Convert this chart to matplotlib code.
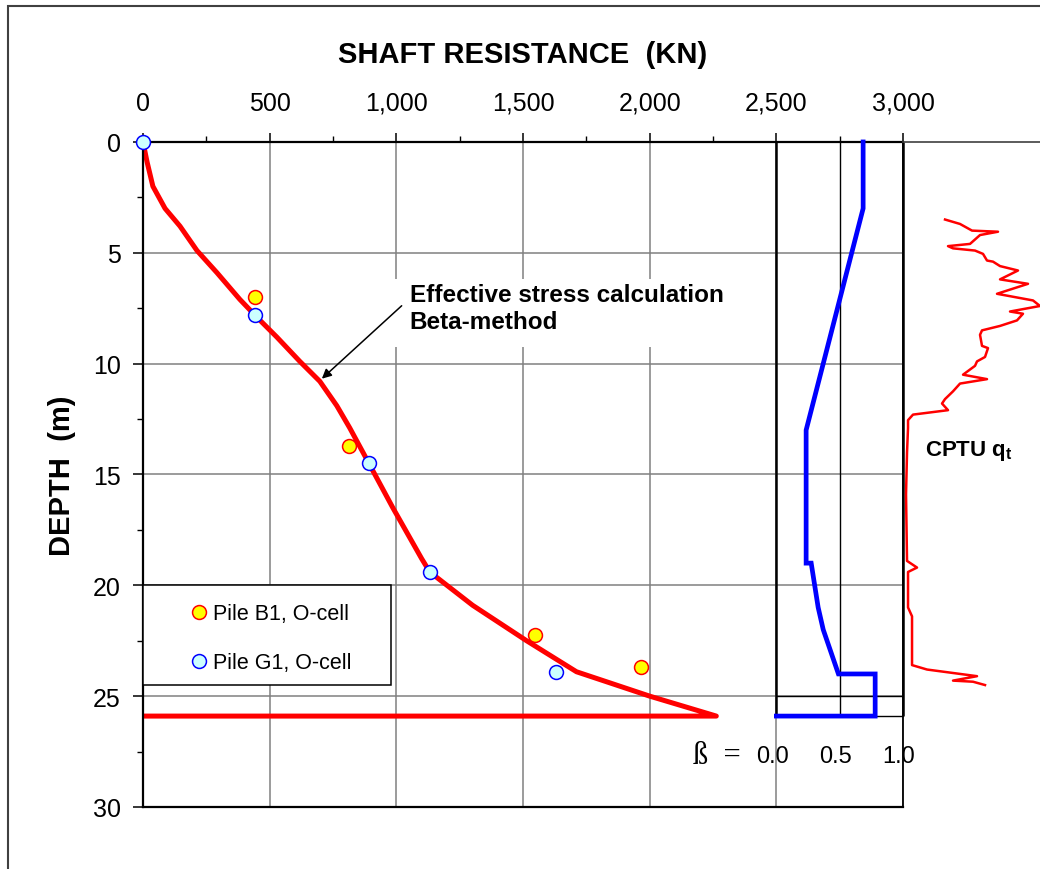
import matplotlib
matplotlib.use("Agg")
import matplotlib.pyplot as plt
from matplotlib.patches import Rectangle
from matplotlib.ticker import MultipleLocator, StrMethodFormatter
from matplotlib import transforms

# effective stress (beta-method) calculation of mobilised shaft resistance
calc_depth = [0, 0.9, 2.0, 3.0, 3.8, 4.9, 5.9, 7.1, 7.9, 8.8, 9.9, 10.8, 11.9,
              12.9, 14.4, 16.5, 18.8, 19.4, 20.9, 22.5, 23.9, 25.0, 25.9, 25.9]
calc_load = [0, 16, 39, 87, 146, 213, 292, 382, 449, 528, 619, 698, 765,
             816, 887, 986, 1100, 1132, 1301, 1514, 1711, 2000, 2263, 0]

# O-cell test results
b1_depth = [7.0, 13.7, 22.25, 23.7]
b1_load = [442, 812, 1546, 1964]
g1_depth = [0, 7.8, 14.5, 19.4, 23.9]
g1_load = [0, 442, 891, 1132, 1629]

# beta coefficient profile
beta_depth = [0, 3, 13, 19, 19, 21, 22, 24, 24, 25.9, 25.9]
beta_value = [0.685, 0.685, 0.235, 0.235, 0.275, 0.33, 0.37, 0.49, 0.78, 0.78, 0.0]

# CPTU cone resistance qt (MPa)
cptu_depth = [3.5, 3.7, 4.0, 4.05, 4.2, 4.6, 4.7, 4.8, 4.9, 5.05, 5.35, 5.4, 5.6,
              5.8, 6.2, 6.4, 6.85, 7.15, 7.4, 7.65, 7.75, 8.05, 8.3, 8.5, 8.7,
              9.2, 9.3, 9.7, 9.9, 10.1, 10.5, 10.7, 10.9, 11.25, 11.6, 11.8,
              12.1, 12.3, 12.55, 12.9, 14.0, 15.9, 18.9, 19.2, 19.4, 21.0, 21.4,
              23.6, 23.8, 24.1, 24.3, 24.35, 24.5]
cptu_qt = [4.2, 5.7, 6.9, 9.5, 7.7, 6.7, 4.5, 5.0, 7.2, 8.0, 8.4, 9.0, 9.7,
           11.5, 9.7, 12.5, 9.4, 13.0, 13.7, 10.7, 12.0, 11.4, 9.7, 7.9, 7.7,
           7.9, 8.5, 8.2, 7.4, 7.2, 6.0, 8.4, 5.7, 5.0, 4.2, 3.9,
           4.5, 1.0, 0.5, 0.5, 0.4, 0.3, 0.4, 1.4, 0.5, 0.5, 0.9,
           0.9, 2.4, 7.4, 5.0, 7.0, 8.2]

beta_ticks = [0.0, 0.5, 1.0]

plt.rcParams["font.family"] = ["Liberation Sans", "DejaVu Sans"]
plt.rcParams["mathtext.fontset"] = "custom"
plt.rcParams["mathtext.rm"] = "Liberation Sans"
plt.rcParams["mathtext.bf"] = "Liberation Sans:bold"

fig = plt.figure(figsize=(10.4, 8.7), dpi=100)
ax = fig.add_axes([0.1375, 0.0713, 0.7308, 0.7644])

ax.set_xlim(0, 3000)
ax.set_ylim(30, 0)
ax.xaxis.tick_top()
ax.xaxis.set_label_position("top")
ax.xaxis.set_major_locator(MultipleLocator(500))
ax.xaxis.set_minor_locator(MultipleLocator(250))
ax.yaxis.set_major_locator(MultipleLocator(5))
ax.yaxis.set_minor_locator(MultipleLocator(2.5))
ax.xaxis.set_major_formatter(StrMethodFormatter("{x:,.0f}"))
ax.tick_params(axis="x", which="major", length=6.5, width=1.1, labelsize=18, pad=13)
ax.tick_params(axis="x", which="minor", length=4, width=1.0)
ax.tick_params(axis="y", which="major", length=7, width=1.1, labelsize=18, pad=9)
ax.tick_params(axis="y", which="minor", length=4.3, width=1.0)
ax.grid(True, which="major", color="#808080", lw=1.1)
ax.set_axisbelow(True)
for side in ["left", "top", "bottom"]:
    ax.spines[side].set_linewidth(1.6)
ax.spines["right"].set_linewidth(1.3)

ax.set_xlabel("SHAFT RESISTANCE  (KN)", fontsize=21, fontweight="bold", labelpad=21)
ax.set_ylabel("DEPTH  (m)", fontsize=21, fontweight="bold", labelpad=12)

# calculated curve and measured points
ax.plot(calc_load, calc_depth, color="#FF0000", lw=3.6, zorder=2,
        solid_joinstyle="round", solid_capstyle="round")
ax.plot(b1_load, b1_depth, "o", ms=10, mfc="#FFFF00", mec="#FF0000", mew=1.1,
        label="Pile B1, O-cell", clip_on=False, zorder=4)
ax.plot(g1_load, g1_depth, "o", ms=10, mfc="#CCFFFF", mec="#0000FF", mew=1.1,
        label="Pile G1, O-cell", clip_on=False, zorder=4)

# legend box
ax.add_patch(Rectangle((0, 20), 980, 4.5, facecolor="white", edgecolor="black",
                       lw=1.1, zorder=3))
leg = ax.legend(loc="upper left", bbox_to_anchor=(146, 20.33),
                bbox_transform=ax.transData, frameon=False, fontsize=15.5,
                handlelength=0.8, handletextpad=0.25, borderpad=0,
                labelspacing=1.3, numpoints=1)
leg.set_zorder(5)

# annotation for the calculated curve
ax.add_patch(Rectangle((994, 6.18), 1340, 3.07, facecolor="white",
                       edgecolor="none", zorder=1))
ax.text(1053, 7.5, "Effective stress calculation\nBeta-method", fontsize=17.5,
        fontweight="bold", ha="left", va="center", linespacing=1.25, zorder=3)
ax.annotate("", xy=(706, 10.68), xytext=(1021, 7.39),
            arrowprops=dict(arrowstyle="-|>", color="black", lw=1.1,
                            mutation_scale=14, shrinkA=0, shrinkB=0), zorder=3)

# beta panel on the right of the resistance axis
ax_b = ax.inset_axes([2500 / 3000, 0, 1 / 6, 1])
ax_b.set_xlim(0, 1)
ax_b.set_ylim(30, 0)
ax_b.axis("off")
ax_b.vlines([0, 1], 0, 25.9, color="black", lw=1.8, clip_on=False)
ax_b.vlines(0.5, 0, 25.9, color="black", lw=1.0, clip_on=False)
ax_b.hlines([25, 25.9], 0, 1, colors="black", lw=1.0, clip_on=False)
ax_b.plot(beta_value, beta_depth, color="#0000FF", lw=3.4, clip_on=False,
          solid_joinstyle="miter")
shift = transforms.offset_copy(ax_b.transData, fig=fig, x=-4, y=0, units="dots")
for b in beta_ticks:
    ax_b.text(b, 27.7, f"{b:.1f}", ha="center", va="center", fontsize=17,
              transform=shift)
ax_b.text(-0.28, 27.7, "ß  =", ha="right", va="center", fontsize=22,
          family=["Liberation Serif", "DejaVu Serif"])

# CPTU trace to the right of the main frame
ax_c = fig.add_axes([0.8683, 0.0713, 0.1317, 0.7644])
ax_c.set_xlim(0, 13.7)
ax_c.set_ylim(30, 0)
ax_c.patch.set_visible(False)
for side in ["left", "right", "bottom"]:
    ax_c.spines[side].set_visible(False)
ax_c.spines["top"].set_linewidth(1.2)
ax_c.spines["top"].set_color("#404040")
ax_c.set_xticks([])
ax_c.set_yticks([])
ax_c.plot(cptu_qt, cptu_depth, color="#FF0000", lw=1.8)
ax_c.text(2.2, 13.9, r"CPTU q$_\mathbf{t}$", fontsize=16, fontweight="bold",
          ha="left", va="center")

# outer frame
fig.patches.append(Rectangle((0.0077, -0.05), 1.1, 1.042, transform=fig.transFigure,
                             fill=False, ec="#404040", lw=1.5))

fig.savefig("out.png", dpi=100)
